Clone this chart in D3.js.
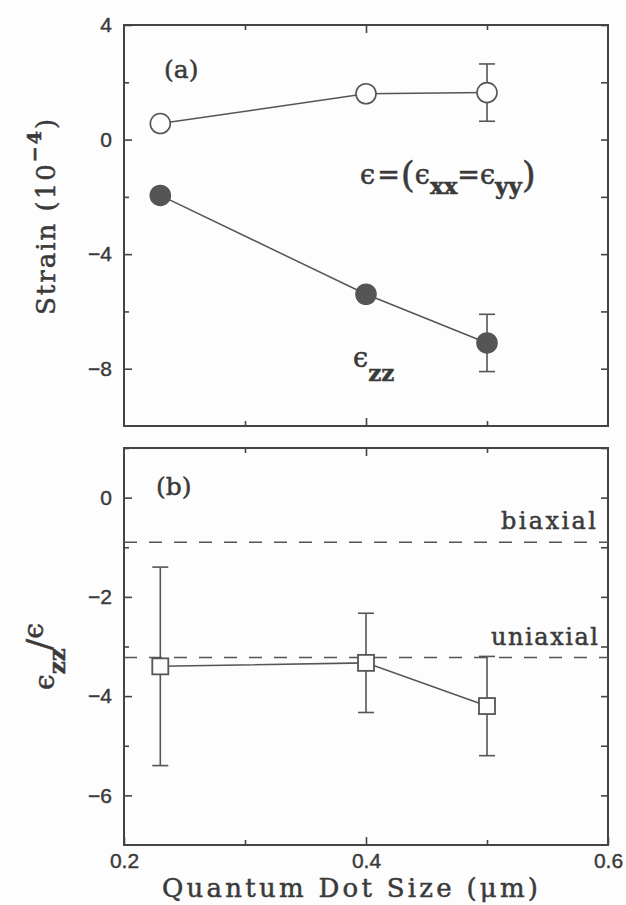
<!DOCTYPE html>
<html>
<head>
<meta charset="utf-8">
<script src="https://cdnjs.cloudflare.com/ajax/libs/d3/7.8.5/d3.min.js"></script>
<style>
  body { margin: 0; background: #fdfdfd; }
  svg { display: block; }
  .axis path { display: none; }
  .axis line { stroke: #444; stroke-width: 1.6; }
  .axis text { fill: #3a3a3a; stroke: #3a3a3a; stroke-width: 0.4; }
  .mono { font-family: "DejaVu Serif", serif; fill: #3a3a3a; stroke: #3a3a3a; stroke-width: 0.5; }
  .eps { font-family: "DejaVu Serif", serif; font-weight: normal; }
</style>
</head>
<body>
<svg width="626" height="905"></svg>
<script>
// quantum dot sizes (um)
var sizes = [0.23, 0.40, 0.50];

// panel (a): strain in units of 1e-4
var inPlane = [0.56, 1.60, 1.64];
var inPlaneErr = [0, 0, 1.0];
var growth = [-1.95, -5.40, -7.10];
var growthErr = [0, 0, 1.0];

// panel (b): ratio ezz / e
var ratio = [-3.40, -3.33, -4.20];
var ratioErr = [2.0, 1.0, 1.0];
var biaxial = -0.9;
var uniaxial = -3.22;

var xTicks = [0.2, 0.4, 0.6];
var xMinor = [0.3, 0.5];
var aTicks = [4, 0, -4, -8];
var aMinor = [2, -2, -6];
var bTicks = [0, -2, -4, -6];
var bMinor = [1, -1, -3, -5];

var svg = d3.select("svg");
var left = 124, right = 608;

var x = d3.scaleLinear().domain([0.2, 0.6]).range([left, right]);
var ya = d3.scaleLinear().domain([-10, 4]).range([426, 25]);
var yb = d3.scaleLinear().domain([-7, 1]).range([845, 448]);

function labelFont(g) {
    g.attr("font-size", 21).attr("font-family", "'Liberation Sans', Arial, sans-serif");
}

function drawFrame(y, majors, minors, showX) {
    var top = y.range()[1], bottom = y.range()[0];

    svg.append("g").attr("class", "axis")
        .attr("transform", "translate(" + left + ",0)")
        .call(d3.axisLeft(y).tickValues(majors).tickSize(-8).tickPadding(12)
            .tickFormat(function (d) { return d < 0 ? "\u2212" + (-d) : d; }))
        .call(labelFont);
    svg.append("g").attr("class", "axis")
        .attr("transform", "translate(" + left + ",0)")
        .call(d3.axisLeft(y).tickValues(minors).tickSize(-5).tickFormat(""));
    svg.append("g").attr("class", "axis")
        .attr("transform", "translate(" + right + ",0)")
        .call(d3.axisRight(y).tickValues(majors.concat(minors)).tickSize(-7).tickFormat(""));

    svg.append("g").attr("class", "axis")
        .attr("transform", "translate(0," + bottom + ")")
        .call(d3.axisBottom(x).tickValues(showX ? xTicks : [0.4]).tickSize(-8).tickPadding(8)
            .tickFormat(showX ? d3.format(".1f") : ""))
        .call(labelFont);
    svg.append("g").attr("class", "axis")
        .attr("transform", "translate(0," + bottom + ")")
        .call(d3.axisBottom(x).tickValues(xMinor).tickSize(-5).tickFormat(""));
    svg.append("g").attr("class", "axis")
        .attr("transform", "translate(0," + top + ")")
        .call(d3.axisTop(x).tickValues([0.4]).tickSize(-8).tickFormat(""));
    svg.append("g").attr("class", "axis")
        .attr("transform", "translate(0," + top + ")")
        .call(d3.axisTop(x).tickValues(xMinor).tickSize(-5).tickFormat(""));

    svg.append("rect")
        .attr("x", left).attr("y", top)
        .attr("width", right - left).attr("height", bottom - top)
        .attr("fill", "none").attr("stroke", "#444").attr("stroke-width", 2);
}

function drawSeries(y, vals, errs, marker) {
    var pts = sizes.map(function (s, i) { return { x: s, y: vals[i], e: errs[i] }; });
    var line = d3.line().x(function (d) { return x(d.x); }).y(function (d) { return y(d.y); });

    svg.append("path").datum(pts)
        .attr("d", line).attr("fill", "none")
        .attr("stroke", "#555").attr("stroke-width", 1.5);

    var eb = svg.append("g").attr("stroke", "#555").attr("stroke-width", 1.6);
    pts.filter(function (d) { return d.e > 0; }).forEach(function (d) {
        eb.append("line").attr("x1", x(d.x)).attr("x2", x(d.x))
            .attr("y1", y(d.y - d.e)).attr("y2", y(d.y + d.e));
        [d.y - d.e, d.y + d.e].forEach(function (v) {
            eb.append("line").attr("x1", x(d.x) - 8).attr("x2", x(d.x) + 8)
                .attr("y1", y(v)).attr("y2", y(v));
        });
    });

    if (marker == "square") {
        svg.selectAll(null).data(pts).enter().append("rect")
            .attr("x", function (d) { return x(d.x) - 8; })
            .attr("y", function (d) { return y(d.y) - 8; })
            .attr("width", 16).attr("height", 16)
            .attr("fill", "#fdfdfd").attr("stroke", "#555").attr("stroke-width", 1.8);
    } else {
        svg.selectAll(null).data(pts).enter().append("circle")
            .attr("cx", function (d) { return x(d.x); })
            .attr("cy", function (d) { return y(d.y); })
            .attr("r", 10)
            .attr("fill", marker == "filled" ? "#555" : "#fdfdfd")
            .attr("stroke", "#555").attr("stroke-width", 1.6);
    }
}

drawFrame(ya, aTicks, aMinor, false);
drawFrame(yb, bTicks, bMinor, true);

// reference lines in (b)
[biaxial, uniaxial].forEach(function (v) {
    svg.append("line")
        .attr("x1", left).attr("x2", right)
        .attr("y1", yb(v)).attr("y2", yb(v))
        .attr("stroke", "#555").attr("stroke-width", 1.5)
        .attr("stroke-dasharray", "13,12");
});

drawSeries(ya, inPlane, inPlaneErr, "open");
drawSeries(ya, growth, growthErr, "filled");
drawSeries(yb, ratio, ratioErr, "square");

// labels
svg.append("text").attr("class", "mono").attr("x", 164).attr("y", 78)
    .attr("font-size", 25).text("(a)");
svg.append("text").attr("class", "mono").attr("x", 156).attr("y", 495)
    .attr("font-size", 25).text("(b)");

var t1 = svg.append("text").attr("class", "mono").attr("x", 360).attr("y", 184).attr("font-size", 27);
t1.append("tspan").attr("class", "eps").text("\u03f5");
t1.append("tspan").attr("dx", 2).text("=");
t1.append("tspan").attr("font-size", 36).attr("dy", 3).attr("dx", 1).text("(");
t1.append("tspan").attr("class", "eps").attr("dy", -3).text("\u03f5");
t1.append("tspan").attr("font-size", 23).attr("font-weight", "bold").attr("dy", 10).text("xx");
t1.append("tspan").attr("dy", -10).text("=");
t1.append("tspan").attr("class", "eps").text("\u03f5");
t1.append("tspan").attr("font-size", 23).attr("font-weight", "bold").attr("dy", 10).text("yy");
t1.append("tspan").attr("font-size", 36).attr("dy", -7).text(")");

var t2 = svg.append("text").attr("class", "mono").attr("x", 353).attr("y", 367).attr("font-size", 27);
t2.append("tspan").attr("class", "eps").text("\u03f5");
t2.append("tspan").attr("font-size", 23).attr("font-weight", "bold").attr("dy", 14).text("zz");

svg.append("text").attr("class", "mono").attr("x", 596).attr("y", 529)
    .attr("font-size", 24).attr("text-anchor", "end")
    .attr("textLength", 95).attr("lengthAdjust", "spacing").text("biaxial");
svg.append("text").attr("class", "mono").attr("x", 598).attr("y", 645)
    .attr("font-size", 24).attr("text-anchor", "end")
    .attr("textLength", 107).attr("lengthAdjust", "spacing").text("uniaxial");

// axis titles
svg.append("text").attr("class", "mono").attr("x", 162).attr("y", 897)
    .attr("font-size", 26)
    .attr("textLength", 376).attr("lengthAdjust", "spacing")
    .text("Quantum Dot Size (\u03bcm)");

var yl = svg.append("text").attr("class", "mono").attr("font-size", 26)
    .attr("letter-spacing", 2)
    .attr("transform", "translate(55,315) rotate(-90)");
yl.append("tspan").text("Strain (10");
yl.append("tspan").attr("font-size", 19).attr("font-weight", "bold").attr("dy", -14).text("\u2212" + "4");
yl.append("tspan").attr("dy", 14).text(")");

var yl2 = svg.append("text").attr("class", "mono").attr("font-size", 28)
    .attr("transform", "translate(54,690) rotate(-90)");
yl2.append("tspan").attr("class", "eps").text("\u03f5");
yl2.append("tspan").attr("font-size", 23).attr("font-weight", "bold").attr("dy", 11).text("zz");
yl2.append("tspan").attr("font-size", 34).attr("dy", -14).attr("dx", -2).text("/");
yl2.append("tspan").attr("class", "eps").attr("dy", -8).text("\u03f5");
</script>
</body>
</html>
